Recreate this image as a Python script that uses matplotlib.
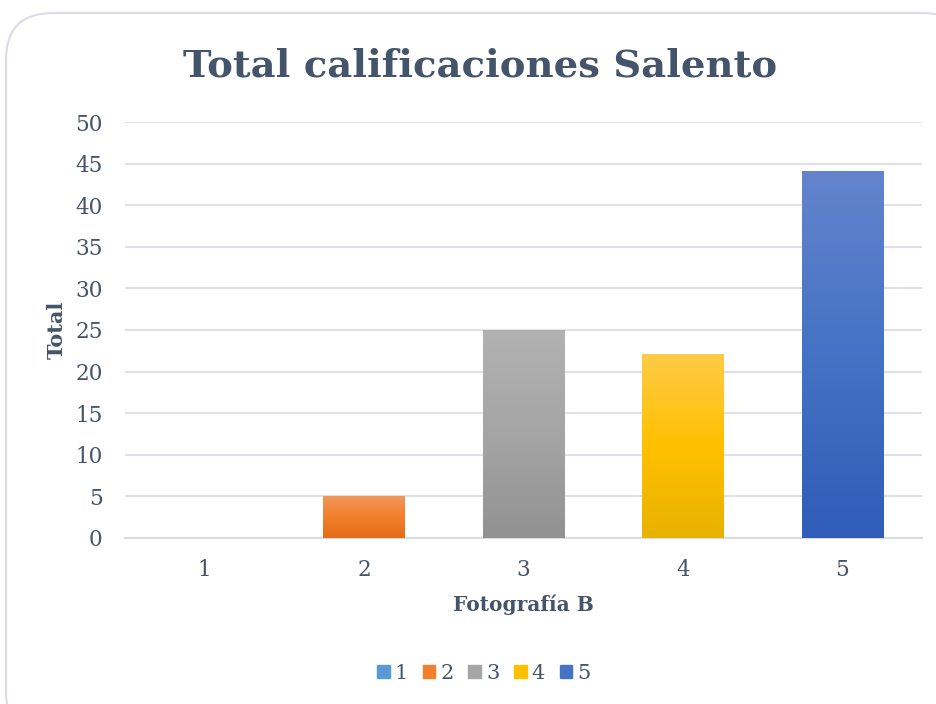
import matplotlib.pyplot as plt
import numpy as np
from matplotlib.colors import LinearSegmentedColormap
from matplotlib.patches import FancyBboxPatch

categorias = ['1', '2', '3', '4', '5']
totales = [0, 5, 25, 22, 44]
ticks_y = [0, 5, 10, 15, 20, 25, 30, 35, 40, 45, 50]

# colores del degradado (arriba, centro, abajo) por serie
degradados = [
    ('#6FA8DC', '#5B9BD5', '#4A89C4'),
    ('#F1975A', '#F37F2B', '#E46C17'),
    ('#B2B2B2', '#A5A5A5', '#929292'),
    ('#FFCB47', '#FFC000', '#E8B200'),
    ('#6484CD', '#4472C4', '#2F5DB8'),
]

texto = '#44546A'
fuente = ['DejaVu Serif']

fig = plt.figure(figsize=(9.36, 7.04), dpi=100)
# marco redondeado del gráfico (se sale por la derecha y por abajo)
marco = FancyBboxPatch((0.0064, -0.05), 1.03, 1.0315, boxstyle='round,pad=0,rounding_size=0.05',
                       transform=fig.transFigure, facecolor='white', edgecolor='#D9DDE3',
                       linewidth=1.5, mutation_aspect=936 / 704, zorder=-10)
fig.patches.append(marco)
ax = fig.add_axes([0.1335, 0.2358, 0.8515, 0.5909])
ax.set_facecolor('none')

x = np.arange(len(categorias))
ancho = 0.51
barras = ax.bar(x, totales, width=ancho, color='none', zorder=3)

for i, b in enumerate(barras):
    if totales[i] <= 0:
        continue
    cmap = LinearSegmentedColormap.from_list('g%d' % i, list(degradados[i][::-1]))
    grad = np.linspace(0, 1, 256).reshape(-1, 1)
    ax.imshow(grad, cmap=cmap, aspect='auto', origin='lower', zorder=3,
              extent=(b.get_x(), b.get_x() + b.get_width(), 0, b.get_height()))

ax.set_xlim(-0.5, len(categorias) - 0.5)
ax.set_ylim(0, 50)
ax.set_yticks(ticks_y)
ax.set_xticks(x)
ax.set_xticklabels(categorias)
ax.grid(axis='y', color='#DEE2E8', linewidth=1.5, zorder=0)
ax.tick_params(length=0, colors=texto, labelsize=15.5)
ax.tick_params(axis='y', pad=16)
ax.tick_params(axis='x', pad=15)
for lbl in ax.get_xticklabels() + ax.get_yticklabels():
    lbl.set_family(fuente)
for lado in ['top', 'right', 'left']:
    ax.spines[lado].set_visible(False)
ax.spines['bottom'].set_color('#D9DDE3')
ax.spines['bottom'].set_linewidth(1.5)

ax.set_ylabel('Total', fontsize=15, fontweight='bold', color=texto, family=fuente, labelpad=6)
ax.set_xlabel('Fotografía B', fontsize=14.5, fontweight='bold', color=texto, family=fuente, labelpad=10)

fig.text(0.513, 0.906, 'Total calificaciones Salento', ha='center', va='center',
         fontsize=27.7, fontweight='bold', color=texto, family=fuente)

manijas = [plt.Rectangle((0, 0), 1, 1, color=d[1]) for d in degradados]
fig.legend(manijas, categorias, loc='center', bbox_to_anchor=(0.517, 0.044), ncol=5,
           frameon=False, handlelength=0.6, handleheight=0.6, handletextpad=0.25,
           columnspacing=0.7, prop={'family': fuente, 'size': 15}, labelcolor=texto)

fig.savefig('out.png', dpi=100)
